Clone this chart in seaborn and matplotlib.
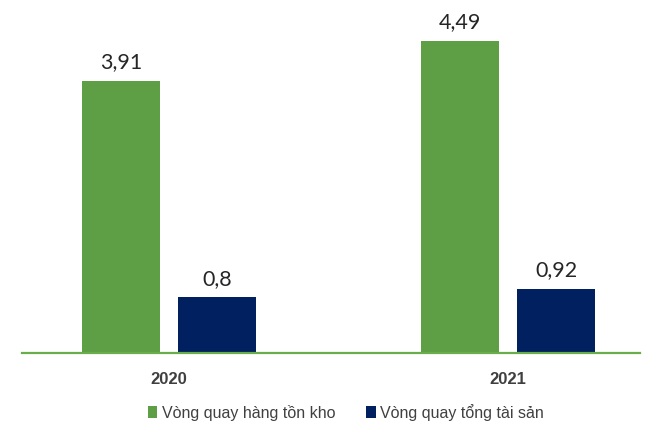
import matplotlib
matplotlib.use("Agg")
import matplotlib.pyplot as plt
import seaborn as sns
import pandas as pd

years = ["2020", "2021"]
series_names = ["Vòng quay hàng tồn kho", "Vòng quay tổng tài sản"]
inventory_turnover = [3.91, 4.49]
asset_turnover = [0.8, 0.92]
value_labels_inv = ["3,91", "4,49"]
value_labels_asset = ["0,8", "0,92"]

colors = ["#5E9E45", "#00205F"]

df = pd.DataFrame({
    "year": years * 2,
    "series": [series_names[0]] * 2 + [series_names[1]] * 2,
    "value": inventory_turnover + asset_turnover,
    "label": value_labels_inv + value_labels_asset,
})

sns.set_style("white")
plt.rcParams["font.family"] = ["Liberation Sans", "DejaVu Sans"]

fig = plt.figure(figsize=(6.51, 4.27), dpi=100)
ax = fig.add_axes([22 / 651, 1 - 354 / 427, (640 - 22) / 651, 354 / 427])

sns.barplot(data=df, x="year", y="value", hue="series", order=years,
            hue_order=series_names, palette=colors, width=0.566, gap=0.187,
            saturation=1, ax=ax, legend=True, edgecolor="none")

ax.set_ylim(0, 5.09)
ax.set_xlim(-0.434, 1.389)

for container, labels in zip(ax.containers, [value_labels_inv, value_labels_asset]):
    ax.bar_label(container, labels=labels, padding=7, fontsize=15.5,
                 color="#262626", family=["Lato", "DejaVu Sans"])

for s in ["top", "right", "left"]:
    ax.spines[s].set_visible(False)
ax.spines["bottom"].set_color("#6AAE4C")
ax.spines["bottom"].set_linewidth(1.6)
ax.set_yticks([])
ax.set_xlabel("")
ax.set_ylabel("")
ax.tick_params(axis="x", length=0, pad=13)
for t in ax.get_xticklabels():
    t.set_fontweight("bold")
    t.set_fontsize(12)
    t.set_color("#3F3F3F")

handles, labels = ax.get_legend_handles_labels()
ax.get_legend().remove()
fig.legend(handles, labels, loc="center", bbox_to_anchor=(346 / 651, 1 - 413 / 427),
           ncol=2, frameon=False, fontsize=11.5, handlelength=0.6, handleheight=0.8,
           handletextpad=0.3, columnspacing=1.9, labelcolor="#404040")

fig.savefig("out.png", dpi=100)
